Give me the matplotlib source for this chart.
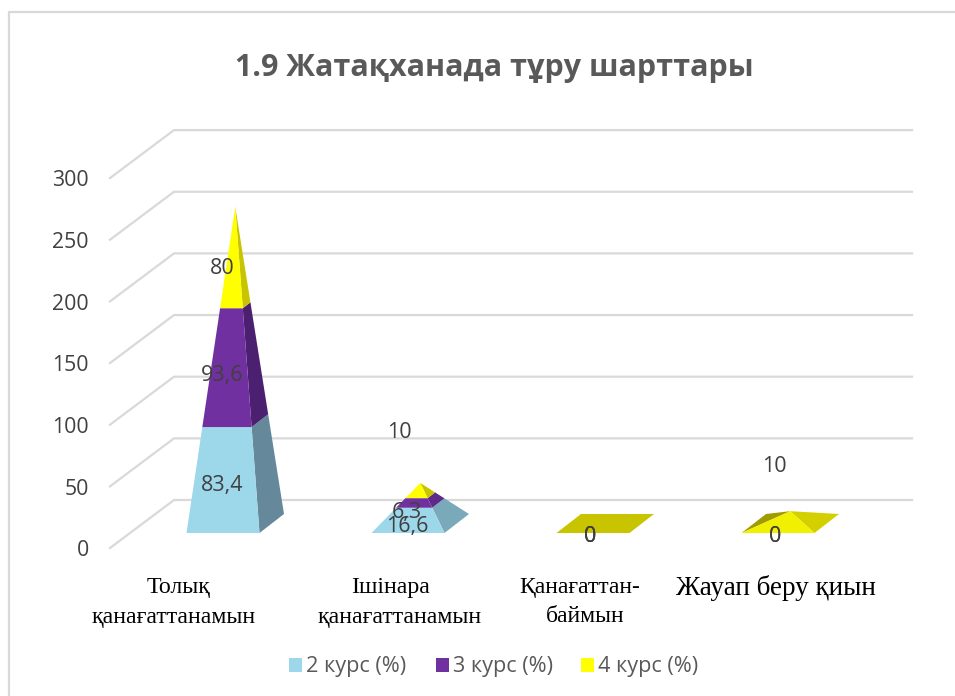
import numpy as np
import matplotlib
matplotlib.use("Agg")
import matplotlib.pyplot as plt
from matplotlib.patches import Polygon, Rectangle

# Data
categories = ["Толық\nқанағаттанамын", "Ішінара\nқанағаттанамын",
              "Қанағаттан-\nбаймын", "Жауап беру қиын"]
series_names = ["2 курс (%)", "3 курс (%)", "4 курс (%)"]
course2 = [83.4, 16.6, 0, 0]
course3 = [93.6, 6.3, 0, 0]
course4 = [80, 10, 0, 10]
label2 = ["83,4", "16,6", "0", "0"]
label3 = ["93,6", "6,3", "0", "0"]
label4 = ["80", "10", "0", "10"]
yticks = [0, 50, 100, 150, 200, 250, 300]

front_colors = ["#9DD7EA", "#7030A0", "#FFFF00"]
side_colors = ["#65899A", "#4C2070", "#C8C400"]

W, H = 955, 696
px_per_val = 1.233
px_per_cat = 185.0
x0_px, y0_px = 223.0, 533.0   # front centre of the first pyramid base


def X(px):
    return (px - x0_px) / px_per_cat


def Y(py):
    return (y0_px - py) / px_per_val


fig = plt.figure(figsize=(W / 100, H / 100), dpi=100)
ax = fig.add_axes([0, 0, 1, 1])
ax.set_xlim(X(0), X(W))
ax.set_ylim(Y(H), Y(0))
ax.axis("off")

sans = "Open Sans"
serif = "Liberation Serif"
txt = "#404040"
grid = "#D9D9D9"

# only the left and top edges of the chart frame are visible
ax.plot([X(9), X(9), X(W)], [Y(H), Y(12), Y(12)], color=grid, lw=1.6, zorder=0,
        solid_joinstyle="miter")

# oblique floor offsets in data units
depth_x = 64 / px_per_cat
depth_y = 48 / px_per_val
grid_left = X(110)
grid_base = Y(548)
for t in yticks:
    yy = grid_base + t
    ax.plot([grid_left, grid_left + depth_x, X(912)],
            [yy, yy + depth_y, yy + depth_y],
            color=grid, lw=1.6, zorder=1, solid_joinstyle="miter")
    ax.text(X(89), yy - 2.7 / px_per_val, str(t), ha="right", va="center",
            fontsize=15.3, color=txt, family=sans)

half_w = 36.5 / px_per_cat
base_dx = 24.5 / px_per_cat
base_dy = 19 / px_per_val


def pyramid_level(i, t, total):
    # four corners of the pyramid section at height fraction t
    cx = i
    fl = np.array([cx - half_w, 0.0])
    fr = np.array([cx + half_w, 0.0])
    br = fr + [base_dx, base_dy]
    bl = fl + [base_dx, base_dy]
    apex = np.array([cx + base_dx / 2, base_dy / 2 + total])
    return [c + (apex - c) * t for c in (fl, fr, br, bl)]


stacks = np.array([course2, course3, course4], dtype=float)
for i in range(len(categories)):
    total = stacks[:, i].sum()
    if total == 0:
        # nothing stacked: the base stays flat
        lv = pyramid_level(i, 0, 0)
        ax.add_patch(Polygon(lv, fc=side_colors[2], ec="none", zorder=3))
        continue
    fronts = list(front_colors)
    sides = list(side_colors)
    if i == 1:
        sides[0] = "#7AA9BA"
        sides[1] = "#5E2A8A"
    if stacks[2, i] == total:
        # only the top series: back-left face shows through
        fronts[2] = "#F0F000"
        sides[2] = "#D4D000"
        lv = pyramid_level(i, 0, total)
        top = pyramid_level(i, 1, total)[0]
        ax.add_patch(Polygon([lv[0], lv[3], top], fc="#A09C00", ec="none", zorder=3))
    bottom = 0.0
    for s in range(3):
        v = stacks[s, i]
        if v == 0:
            continue
        a = pyramid_level(i, bottom / total, total)
        b = pyramid_level(i, (bottom + v) / total, total)
        ax.add_patch(Polygon([a[1], a[2], b[2], b[1]], fc=sides[s], ec="none", zorder=4))
        ax.add_patch(Polygon([a[0], a[1], b[1], b[0]], fc=fronts[s], ec="none", zorder=5))
        bottom += v

# data labels, centred on each segment unless moved in the original
for i in range(len(categories)):
    base = 0.0
    for s, labels in enumerate([label2, label3, label4]):
        v = stacks[s, i]
        lx, ly = i - 1 / px_per_cat, base + v / 2 - 3.5 / px_per_val
        if labels[i] == "10":
            # these two were dragged off their segments
            lx = i - (9 if i == 1 else 4) / px_per_cat
            ly = Y(432 if i == 1 else 467)
        elif labels[i] == "0":
            lx = i - 3 / px_per_cat
            ly = Y(536)
        ax.text(lx, ly, labels[i], ha="center", va="center",
                fontsize=15.5, color=txt, family=sans, zorder=6)
        base += v

# category labels, the two lines are not centred on each other in the original
line1_x = [179, 391, 580, 776]
line2_x = [174, 400, 585, 776]
cat_size = [17.2, 17.2, 17.0, 19.5]
for name, x1, x2, fs in zip(categories, line1_x, line2_x, cat_size):
    lines = name.split("\n")
    ax.text(X(x1), Y(588), lines[0], ha="center", va="center", fontsize=fs,
            color="black", family=serif)
    if len(lines) > 1:
        ax.text(X(x2), Y(617), lines[1], ha="center", va="center", fontsize=fs,
                color="black", family=serif)

ax.text(X(494), Y(68), "1.9 Жатақханада тұру шарттары", ha="center", va="center",
        fontsize=22, fontweight="bold", color="#595959", family=sans)

# legend
leg_x = [289, 436, 581]
for name, col, lx in zip(series_names, front_colors, leg_x):
    ax.add_patch(Rectangle((X(lx), Y(672)), 13 / px_per_cat, 14 / px_per_val,
                           fc=col, ec="none"))
    ax.text(X(lx + 17), Y(666.5), name, ha="left", va="center",
            fontsize=15.6, color="#595959", family=sans)

fig.savefig("out.png", dpi=100)
